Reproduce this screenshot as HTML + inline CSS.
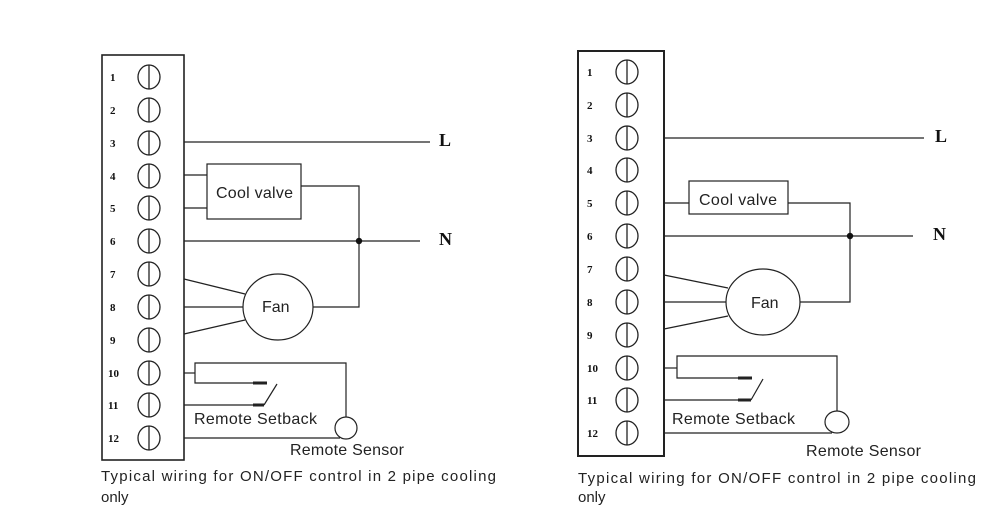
<!DOCTYPE html>
<html><head><meta charset="utf-8"><style>
html,body{margin:0;padding:0;background:#fff;}
svg{display:block;}
text{font-family:"Liberation Sans",sans-serif;fill:#222;}
.n{font-family:"Liberation Serif",serif;font-weight:bold;font-size:11px;fill:#111;}
.b{font-family:"Liberation Serif",serif;font-weight:bold;font-size:18px;fill:#111;}
</style></head><body>
<svg width="1000" height="530" viewBox="0 0 1000 530" xmlns="http://www.w3.org/2000/svg" fill="none" stroke="#222" stroke-width="1.2">
<!-- LEFT -->
<rect x="102" y="55" width="82" height="405" stroke-width="1.6"/>
<g stroke-width="1.3">
<ellipse cx="149" cy="77" rx="11" ry="12"/><line x1="149" y1="65" x2="149" y2="89"/>
<ellipse cx="149" cy="110" rx="11" ry="12"/><line x1="149" y1="98" x2="149" y2="122"/>
<ellipse cx="149" cy="143" rx="11" ry="12"/><line x1="149" y1="131" x2="149" y2="155"/>
<ellipse cx="149" cy="176" rx="11" ry="12"/><line x1="149" y1="164" x2="149" y2="188"/>
<ellipse cx="149" cy="208" rx="11" ry="12"/><line x1="149" y1="196" x2="149" y2="220"/>
<ellipse cx="149" cy="241" rx="11" ry="12"/><line x1="149" y1="229" x2="149" y2="253"/>
<ellipse cx="149" cy="274" rx="11" ry="12"/><line x1="149" y1="262" x2="149" y2="286"/>
<ellipse cx="149" cy="307" rx="11" ry="12"/><line x1="149" y1="295" x2="149" y2="319"/>
<ellipse cx="149" cy="340" rx="11" ry="12"/><line x1="149" y1="328" x2="149" y2="352"/>
<ellipse cx="149" cy="373" rx="11" ry="12"/><line x1="149" y1="361" x2="149" y2="385"/>
<ellipse cx="149" cy="405" rx="11" ry="12"/><line x1="149" y1="393" x2="149" y2="417"/>
<ellipse cx="149" cy="438" rx="11" ry="12"/><line x1="149" y1="426" x2="149" y2="450"/>
</g>
<g stroke="none">
<text class="n" x="110" y="81">1</text><text class="n" x="110" y="114">2</text><text class="n" x="110" y="147">3</text>
<text class="n" x="110" y="180">4</text><text class="n" x="110" y="212">5</text><text class="n" x="110" y="245">6</text>
<text class="n" x="110" y="278">7</text><text class="n" x="110" y="311">8</text><text class="n" x="110" y="344">9</text>
<text class="n" x="108" y="377">10</text><text class="n" x="108" y="409">11</text><text class="n" x="108" y="442">12</text>
</g>
<line x1="184" y1="142" x2="430" y2="142"/>
<text class="b" x="439" y="146" stroke="none">L</text>
<rect x="207" y="164" width="94" height="55"/>
<text x="216" y="198" font-size="16" stroke="none" textLength="77">Cool valve</text>
<line x1="184" y1="175" x2="207" y2="175"/><line x1="184" y1="208" x2="207" y2="208"/>
<polyline points="301,186 359,186 359,307 313,307"/>
<line x1="184" y1="241" x2="420" y2="241"/>
<circle cx="359" cy="241" r="3.2" fill="#111" stroke="none"/>
<text class="b" x="439" y="245" stroke="none">N</text>
<ellipse cx="278" cy="307" rx="35" ry="33"/>
<text x="262" y="312" font-size="16" stroke="none">Fan</text>
<line x1="184" y1="279" x2="245" y2="294"/><line x1="184" y1="307" x2="243" y2="307"/><line x1="184" y1="334" x2="245" y2="320"/>
<polyline points="184,373 195,373"/>
<polyline points="253,383 195,383 195,363 346,363 346,417"/>
<line x1="253" y1="383" x2="267" y2="383" stroke-width="3"/>
<line x1="184" y1="405" x2="253" y2="405"/>
<line x1="253" y1="405" x2="264" y2="405" stroke-width="3"/>
<line x1="264" y1="405" x2="277" y2="384"/>
<circle cx="346" cy="428" r="11"/>
<line x1="184" y1="438" x2="340" y2="438"/>
<g stroke="none" font-size="16">
<text x="194" y="424" textLength="123">Remote Setback</text>
<text x="290" y="455" textLength="114">Remote Sensor</text>
<text x="101" y="481" font-size="15" textLength="395">Typical wiring for ON/OFF control in 2 pipe cooling</text>
<text x="101" y="502" font-size="15">only</text>
</g>

<!-- RIGHT -->
<rect x="578" y="51" width="86" height="405" stroke-width="2"/>
<g stroke-width="1.3">
<ellipse cx="627" cy="72" rx="11" ry="12"/><line x1="627" y1="60" x2="627" y2="84"/>
<ellipse cx="627" cy="105" rx="11" ry="12"/><line x1="627" y1="93" x2="627" y2="117"/>
<ellipse cx="627" cy="138" rx="11" ry="12"/><line x1="627" y1="126" x2="627" y2="150"/>
<ellipse cx="627" cy="170" rx="11" ry="12"/><line x1="627" y1="158" x2="627" y2="182"/>
<ellipse cx="627" cy="203" rx="11" ry="12"/><line x1="627" y1="191" x2="627" y2="215"/>
<ellipse cx="627" cy="236" rx="11" ry="12"/><line x1="627" y1="224" x2="627" y2="248"/>
<ellipse cx="627" cy="269" rx="11" ry="12"/><line x1="627" y1="257" x2="627" y2="281"/>
<ellipse cx="627" cy="302" rx="11" ry="12"/><line x1="627" y1="290" x2="627" y2="314"/>
<ellipse cx="627" cy="335" rx="11" ry="12"/><line x1="627" y1="323" x2="627" y2="347"/>
<ellipse cx="627" cy="368" rx="11" ry="12"/><line x1="627" y1="356" x2="627" y2="380"/>
<ellipse cx="627" cy="400" rx="11" ry="12"/><line x1="627" y1="388" x2="627" y2="412"/>
<ellipse cx="627" cy="433" rx="11" ry="12"/><line x1="627" y1="421" x2="627" y2="445"/>
</g>
<g stroke="none">
<text class="n" x="587" y="76">1</text><text class="n" x="587" y="109">2</text><text class="n" x="587" y="142">3</text>
<text class="n" x="587" y="174">4</text><text class="n" x="587" y="207">5</text><text class="n" x="587" y="240">6</text>
<text class="n" x="587" y="273">7</text><text class="n" x="587" y="306">8</text><text class="n" x="587" y="339">9</text>
<text class="n" x="587" y="372">10</text><text class="n" x="587" y="404">11</text><text class="n" x="587" y="437">12</text>
</g>
<line x1="664" y1="138" x2="924" y2="138"/>
<text class="b" x="935" y="142" stroke="none">L</text>
<rect x="689" y="181" width="99" height="33"/>
<text x="699" y="205" font-size="16" stroke="none" textLength="78">Cool valve</text>
<line x1="664" y1="203" x2="689" y2="203"/>
<polyline points="788,203 850,203 850,302 800,302"/>
<line x1="664" y1="236" x2="913" y2="236"/>
<circle cx="850" cy="236" r="3.2" fill="#111" stroke="none"/>
<text class="b" x="933" y="240" stroke="none">N</text>
<ellipse cx="763" cy="302" rx="37" ry="33"/>
<text x="751" y="308" font-size="16" stroke="none">Fan</text>
<line x1="664" y1="275" x2="728" y2="288"/><line x1="664" y1="302" x2="726" y2="302"/><line x1="664" y1="329" x2="728" y2="316"/>
<line x1="664" y1="368" x2="677" y2="368"/>
<polyline points="738,378 677,378 677,356 837,356 837,411"/>
<line x1="738" y1="378" x2="752" y2="378" stroke-width="3"/>
<line x1="664" y1="400" x2="738" y2="400"/>
<line x1="738" y1="400" x2="751" y2="400" stroke-width="3"/>
<line x1="751" y1="400" x2="763" y2="379"/>
<ellipse cx="837" cy="422" rx="12" ry="11"/>
<line x1="664" y1="433" x2="832" y2="433"/>
<g stroke="none" font-size="16">
<text x="672" y="424" textLength="123">Remote Setback</text>
<text x="806" y="456" textLength="115">Remote Sensor</text>
<text x="578" y="483" font-size="15" textLength="398">Typical wiring for ON/OFF control in 2 pipe cooling</text>
<text x="578" y="502" font-size="15">only</text>
</g>
</svg>
</body></html>
